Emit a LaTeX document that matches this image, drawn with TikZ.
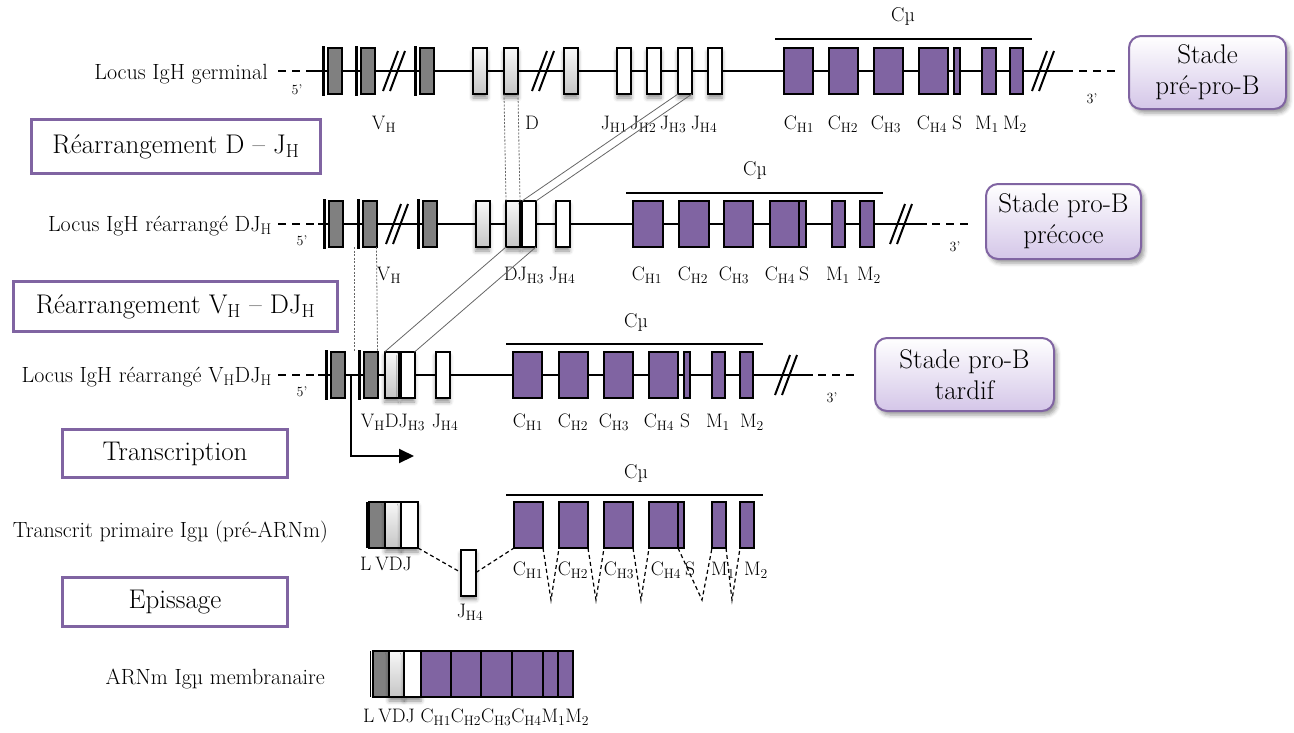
\documentclass[tikz,border=0pt]{standalone}
\usetikzlibrary{positioning, arrows.meta, shadows.blur}

\definecolor{igpurple}{RGB}{128,100,162}
\definecolor{vgray}{RGB}{128,128,128}
\definecolor{stadelight}{RGB}{212,198,232}

\newcommand{\ssub}[1]{\textsubscript{#1}}

\tikzset{
  exon/.style={draw, line width=2pt, minimum height=46pt, inner sep=0pt, outer sep=0pt},
  exon shadow/.style={blur shadow={shadow xshift=0pt, shadow yshift=-4pt, shadow blur radius=4pt, shadow opacity=45}},
  vex/.style={exon, fill=vgray, minimum width=#1pt}, vex/.default=14,
  dex/.style={exon, exon shadow, top color=gray!6, bottom color=gray!45, minimum width=#1pt}, dex/.default=14,
  jex/.style={exon, exon shadow, fill=white, minimum width=#1pt}, jex/.default=14,
  cex/.style={exon, fill=igpurple, minimum width=#1pt}, cex/.default=29,
  locus/.style={line width=2pt},
  locus end/.style={line width=2pt, dash pattern=on 8pt off 6pt},
  leader/.style={line width=3pt, shorten <=-2pt, shorten >=-2pt},
  cmu/.style={line width=2pt},
  brk/.pic={\draw[line width=2pt] (-11,20) -- (4,-20) (-4,20) -- (11,-20);},
  locus lbl/.style={font=\fontsize{22}{26}\selectfont, anchor=base east, inner sep=0pt},
  gene lbl/.style={font=\fontsize{19.5}{23}\selectfont, anchor=base, inner sep=0pt},
  cmu lbl/.style={font=\fontsize{20}{24}\selectfont, inner sep=0pt},
  end lbl/.style={font=\fontsize{14}{16}\selectfont, inner sep=0pt},
  stepbox/.style={draw=igpurple, line width=3pt, fill=white, inner sep=0pt, font=\fontsize{27}{32}\selectfont},
  stadebox/.style={draw=igpurple, line width=2pt, rounded corners=12pt, top color=white, bottom color=stadelight,
    align=center, inner sep=0pt, font=\fontsize{27}{31}\selectfont,
    blur shadow={shadow xshift=3pt, shadow yshift=-4pt, shadow blur radius=4pt, shadow opacity=40}},
  trace/.style={gray!80!black, line width=0.8pt},
  trace dots/.style={trace, dash pattern=on 2pt off 1.5pt},
  splice/.style={line width=1.2pt, dash pattern=on 4pt off 3pt},
  tsarrow/.style={line width=2pt, -{Triangle[length=15pt, width=14pt]}}
}

\begin{document}
\begin{tikzpicture}[x=1pt, y=-1pt]
  \useasboundingbox (0,0) rectangle (1294,732);

  \coordinate (r1a) at (278,71);  \coordinate (r1b) at (312,71);
  \coordinate (r1c) at (1073,71); \coordinate (r1d) at (1079,71);
  \coordinate (r1e) at (1118,71);
  \coordinate (r2a) at (278,224); \coordinate (r2b) at (318,224);
  \coordinate (r2c) at (927,224); \coordinate (r2d) at (932,224);
  \coordinate (r2e) at (970,224);
  \coordinate (r3a) at (278,375); \coordinate (r3b) at (318,375);
  \coordinate (r3c) at (813,375); \coordinate (r3d) at (818,375);
  \coordinate (r3e) at (855,375);
  \draw[locus end] (r1a) -- (r1b);  \draw[locus] (r1b) -- (r1c);  \draw[locus end] (r1d) -- (r1e);
  \draw[locus end] (r2a) -- (r2b);  \draw[locus] (r2b) -- (r2c);  \draw[locus end] (r2d) -- (r2e);
  \draw[locus end] (r3a) -- (r3b);  \draw[locus] (r3b) -- (r3c);  \draw[locus end] (r3d) -- (r3e);

  \node[locus lbl] (germ) at (268,79) {Locus IgH germinal};
  \node[end lbl] (r1five) at (297,90) {5’};
  \node[end lbl] (r1three) at (1092,99) {3’};
  \node[vex] (r1v1) at (335,71) {};
  \node[vex] (r1v2) at (368,71) {};
  \node[vex] (r1v3) at (427,71) {};
  \node[dex] (r1d1) at (480,71) {};
  \node[dex] (r1d2) at (511,71) {};
  \node[dex] (r1d3) at (571,71) {};
  \node[jex] (r1j1) at (624,71) {};
  \node[jex] (r1j2) at (654,71) {};
  \node[jex] (r1j3) at (685,71) {};
  \node[jex] (r1j4) at (715,71) {};
  \node[cex] (r1c1) at (798.5,71) {};
  \node[cex] (r1c2) at (843,71) {};
  \node[cex] (r1c3) at (888,71) {};
  \node[cex] (r1c4) at (933.5,71) {};
  \node[cex=6] (r1s) at (956.5,71) {};
  \node[cex=14] (r1m1) at (989,71) {};
  \node[cex=13] (r1m2) at (1016.5,71) {};
  \pic at (394,71) {brk};
  \pic at (543,71) {brk};
  \pic at (1043,71) {brk};
  \coordinate (r1mua) at (775,39); \coordinate (r1mub) at (1032,39);
  \draw[cmu] (r1mua) -- (r1mub);
  \node[cmu lbl] (r1mu) at (903,16) {Cµ};
  \node[gene lbl] (r1vl) at (384,129) {V\ssub{H}};
  \node[gene lbl] (r1dl) at (532,129) {D};
  \node[gene lbl] (r1j1l) at (614,129) {J\ssub{H1}};
  \node[gene lbl] (r1j2l) at (643,129) {J\ssub{H2}};
  \node[gene lbl] (r1j3l) at (673,129) {J\ssub{H3}};
  \node[gene lbl] (r1j4l) at (704,129) {J\ssub{H4}};
  \node[gene lbl] (r1c1l) at (799,129) {C\ssub{H1}};
  \node[gene lbl] (r1c2l) at (843,129) {C\ssub{H2}};
  \node[gene lbl] (r1c3l) at (886,129) {C\ssub{H3}};
  \node[gene lbl] (r1c4l) at (932,129) {C\ssub{H4}};
  \node[gene lbl] (r1sl) at (957,129) {S};
  \node[gene lbl] (r1m1l) at (987,129) {M\ssub{1}};
  \node[gene lbl] (r1m2l) at (1015,129) {M\ssub{2}};
  \node[stadebox, minimum width=157pt, minimum height=73pt] (prepro) at (1207.5,72.5) {Stade\\pré-pro-B};
  \node[stepbox, minimum width=289pt, minimum height=54pt] (rdj) at (176,146.5) {Réarrangement D – J\ssub{H}};

  \node[locus lbl] (djloc) at (272,231) {Locus IgH réarrangé DJ\ssub{H}};
  \node[end lbl] (r2five) at (302,241) {5’};
  \node[end lbl] (r2three) at (955,247) {3’};
  \node[vex] (r2v1) at (336,224) {};
  \node[vex] (r2v2) at (369.5,224) {};
  \node[vex] (r2v3) at (430,224) {};
  \node[dex] (r2d1) at (482.5,224) {};
  \node[dex] (r2d2) at (513,224) {};
  \node[jex, right=2pt of r2d2] (r2j3) {};
  \node[jex] (r2j4) at (562.5,224) {};
  \node[cex=30] (r2c1) at (648,224) {};
  \node[cex=30] (r2c2) at (694,224) {};
  \node[cex] (r2c3) at (738.5,224) {};
  \node[cex] (r2c4) at (784.5,224) {};
  \node[cex=7, right=0pt of r2c4] (r2s) {};
  \node[cex=13] (r2m1) at (838.5,224) {};
  \node[cex=14] (r2m2) at (866.5,224) {};
  \pic at (397,224) {brk};
  \pic at (901,224) {brk};
  \coordinate (r2mua) at (626,193); \coordinate (r2mub) at (883,193);
  \draw[cmu] (r2mua) -- (r2mub);
  \node[cmu lbl] (r2mu) at (755,170) {Cµ};
  \node[gene lbl] (r2vl) at (389,280) {V\ssub{H}};
  \node[gene lbl] (r2djl) at (524,280) {DJ\ssub{H3}};
  \node[gene lbl] (r2j4l) at (562,280) {J\ssub{H4}};
  \node[gene lbl] (r2c1l) at (647,280) {C\ssub{H1}};
  \node[gene lbl] (r2c2l) at (693,280) {C\ssub{H2}};
  \node[gene lbl] (r2c3l) at (734,280) {C\ssub{H3}};
  \node[gene lbl] (r2c4l) at (780,280) {C\ssub{H4}};
  \node[gene lbl] (r2sl) at (804,280) {S};
  \node[gene lbl] (r2m1l) at (838,280) {M\ssub{1}};
  \node[gene lbl] (r2m2l) at (869,280) {M\ssub{2}};
  \node[stadebox, minimum width=155pt, minimum height=75pt] (proearly) at (1063.5,221.5) {Stade pro-B\\précoce};
  \node[stepbox, minimum width=324pt, minimum height=50pt] (rvdj) at (175.5,306.5) {Réarrangement V\ssub{H} – DJ\ssub{H}};

  \draw[trace dots] (r1d2.south west) -- (r2d2.north west);
  \draw[trace dots] (r1d2.south east) -- (r2d2.north east);
  \draw[trace] (r1j3.south west) -- (r2j3.north west);
  \draw[trace] (r1j3.south east) -- (r2j3.north east);

  \node[locus lbl] (vdjloc) at (272,382) {Locus IgH réarrangé V\ssub{H}DJ\ssub{H}};
  \node[end lbl] (r3five) at (302,392) {5’};
  \node[end lbl] (r3three) at (832,398) {3’};
  \node[vex] (r3v1) at (338,375) {};
  \node[vex] (r3v2) at (370.5,375) {};
  \node[dex] (r3dj) at (391.5,375) {};
  \node[jex, right=2pt of r3dj] (r3j3) {};
  \node[jex] (r3j4) at (442.5,375) {};
  \node[cex] (r3c1) at (527.5,375) {};
  \node[cex] (r3c2) at (573.5,375) {};
  \node[cex] (r3c3) at (618.5,375) {};
  \node[cex] (r3c4) at (663.5,375) {};
  \node[cex=6] (r3s) at (687,375) {};
  \node[cex=13] (r3m1) at (718.5,375) {};
  \node[cex=13] (r3m2) at (746.5,375) {};
  \pic at (786,375) {brk};
  \coordinate (r3mua) at (506,344); \coordinate (r3mub) at (763,344);
  \draw[cmu] (r3mua) -- (r3mub);
  \node[cmu lbl] (r3mu) at (636,322) {Cµ};
  \node[gene lbl] (r3vdjl) at (393,427) {V\ssub{H}DJ\ssub{H3}};
  \node[gene lbl] (r3j4l) at (445,427) {J\ssub{H4}};
  \node[gene lbl] (r3c1l) at (528,427) {C\ssub{H1}};
  \node[gene lbl] (r3c2l) at (573,427) {C\ssub{H2}};
  \node[gene lbl] (r3c3l) at (614,427) {C\ssub{H3}};
  \node[gene lbl] (r3c4l) at (659,427) {C\ssub{H4}};
  \node[gene lbl] (r3sl) at (685,427) {S};
  \node[gene lbl] (r3m1l) at (718,427) {M\ssub{1}};
  \node[gene lbl] (r3m2l) at (752,427) {M\ssub{2}};
  \node[stadebox, minimum width=179pt, minimum height=73pt] (prolate) at (964.5,374.5) {Stade pro-B\\tardif};
  \node[stepbox, minimum width=225pt, minimum height=48pt] (transc) at (175,453.5) {Transcription};

  \draw[trace dots] ([xshift=-8pt]r2v2.south west) -- ([xshift=-9pt]r3v2.north west);
  \draw[trace dots] (r2v2.south east) -- (r3v2.north east);
  \draw[trace] (r2d2.south west) -- (r3dj.north west);
  \draw[trace] (r2j3.south east) -- (r3j3.north east);

  \foreach \g in {r1v1,r1v2,r1v3,r2v1,r2v2,r2v3,r3v1,r3v2}
    \draw[leader] ([xshift=-4.5pt]\g.north west) -- ([xshift=-4.5pt]\g.south west);

  \coordinate (tss) at (351,375);
  \coordinate (tse) at (414,456);
  \draw[tsarrow] (tss) |- (tse);

  \node[locus lbl] (preloc) at (328,537) {Transcrit primaire Igµ (pré-ARNm)};
  \node[vex=16] (r4v) at (377,525) {};
  \node[dex=16, right=0pt of r4v] (r4d) {};
  \node[jex=17, right=0pt of r4d] (r4j) {};
  \draw[leader, shorten <=0pt, shorten >=0pt] ([xshift=-1.5pt]r4v.north west) -- ([xshift=-1.5pt]r4v.south west);
  \node[jex=15] (r4jh4) at (468.5,572.5) {};
  \node[cex] (r4c1) at (528.5,525) {};
  \node[cex] (r4c2) at (573.5,525) {};
  \node[cex] (r4c3) at (618.5,525) {};
  \node[cex] (r4c4) at (663.5,525) {};
  \node[cex=6, right=0pt of r4c4] (r4s) {};
  \node[cex=14] (r4m1) at (719,525) {};
  \node[cex=14] (r4m2) at (747,525) {};
  \coordinate (r4mua) at (506,495); \coordinate (r4mub) at (763,495);
  \draw[cmu] (r4mua) -- (r4mub);
  \node[cmu lbl] (r4mu) at (636,473) {Cµ};
  \draw[splice] (r4j.south east) -- (r4jh4.west);
  \draw[splice] (r4jh4.east) -- (r4c1.south west);
  \coordinate (sp1) at (551,600);
  \coordinate (sp2) at (596,600);
  \coordinate (sp3) at (641,600);
  \coordinate (sp4) at (702,600);
  \coordinate (sp5) at (732,600);
  \draw[splice] (r4c1.south east) -- (sp1) -- (r4c2.south west);
  \draw[splice] (r4c2.south east) -- (sp2) -- (r4c3.south west);
  \draw[splice] (r4c3.south east) -- (sp3) -- (r4c4.south west);
  \draw[splice] (r4c4.south east) -- (sp4) -- (r4m1.south west);
  \draw[splice] (r4m1.south east) -- (sp5) -- (r4m2.south west);
  \node[gene lbl] (r4vdjl) at (386,570) {L\hspace{0.2em}VDJ};
  \node[gene lbl] (r4j4l) at (470,617) {J\ssub{H4}};
  \node[gene lbl] (r4c1l) at (528,575) {C\ssub{H1}};
  \node[gene lbl] (r4c2l) at (573,575) {C\ssub{H2}};
  \node[gene lbl] (r4c3l) at (619,575) {C\ssub{H3}};
  \node[gene lbl] (r4c4l) at (666,575) {C\ssub{H4}};
  \node[gene lbl] (r4sl) at (690,575) {S};
  \node[gene lbl] (r4m1l) at (723,575) {M\ssub{1}};
  \node[gene lbl] (r4m2l) at (756,575) {M\ssub{2}};
  \node[stepbox, minimum width=225pt, minimum height=49pt] (episs) at (175,602) {Epissage};

  \node[locus lbl] (mrna) at (325,684) {ARNm Igµ membranaire};
  \node[vex=16] (r5v) at (381,674) {};
  \node[dex=15, right=0pt of r5v] (r5d) {};
  \node[jex=17, right=0pt of r5d] (r5j) {};
  \node[cex=30, right=0pt of r5j] (r5c1) {};
  \node[cex=30, right=0pt of r5c1] (r5c2) {};
  \node[cex=31, right=0pt of r5c2] (r5c3) {};
  \node[cex=31, right=0pt of r5c3] (r5c4) {};
  \node[cex=15, right=0pt of r5c4] (r5m1) {};
  \node[cex=15, right=0pt of r5m1] (r5m2) {};
  \draw[line width=1.2pt] ([xshift=-2.5pt]r5v.north west) -- ([xshift=-2.5pt]r5v.south west);
  \node[gene lbl, anchor=base west] (r5lbl) at (363,722)
    {L\hspace{0.2em}VDJ C\ssub{H1}C\ssub{H2}C\ssub{H3}C\ssub{H4}M\ssub{1}M\ssub{2}};
\end{tikzpicture}
\end{document}
